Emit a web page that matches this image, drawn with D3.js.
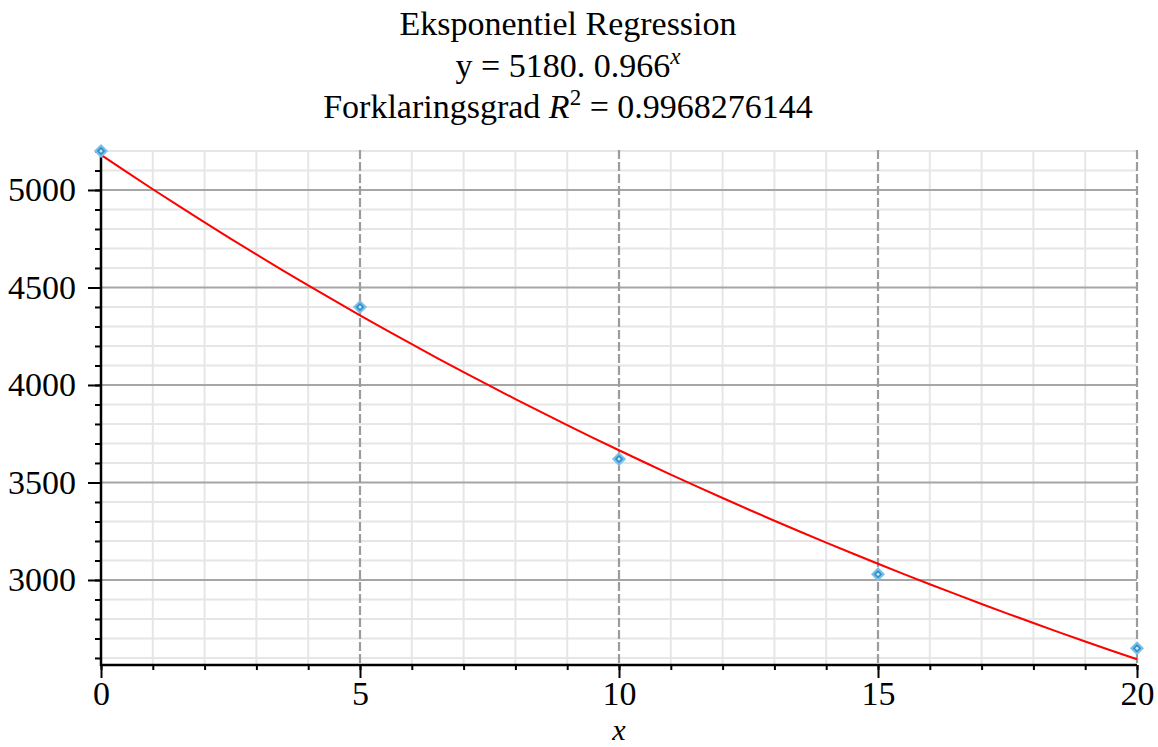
<!DOCTYPE html>
<html>
<head>
<meta charset="utf-8">
<script src="https://cdn.jsdelivr.net/npm/d3@7"></script>
<style>
  body { margin: 0; background: #fff; }
  svg { display: block; font-family: "Liberation Serif", "Times New Roman", serif; }
</style>
</head>
<body>
<div id="wrapper"></div>
<script>
// data
const xValues = [0, 5, 10, 15, 20]
const yValues = [5200, 4400, 3620, 3030, 2650]
// fitted model shown in the title: y = a * b^x
const fitA = 5180
const fitB = 0.966
const fitX = d3.range(0, 20.01, 0.5)
const xMajorTicks = [0, 5, 10, 15, 20]
const yMajorTicks = [3000, 3500, 4000, 4500, 5000]
const titleLines = ["Eksponentiel Regression", "y = 5180. 0.966", "Forklaringsgrad "]

function drawChart() {
    const dimensions = {
        width: 1158,
        height: 747,
        margin: { top: 150, right: 21, bottom: 82, left: 101 },
    }
    dimensions.boundedWidth = dimensions.width - dimensions.margin.left - dimensions.margin.right
    dimensions.boundedHeight = dimensions.height - dimensions.margin.top - dimensions.margin.bottom

    const svg = d3.select("#wrapper").append("svg")
        .attr("width", dimensions.width)
        .attr("height", dimensions.height)

    const bounds = svg.append("g")
        .attr("transform", `translate(${dimensions.margin.left},${dimensions.margin.top})`)

    const xScale = d3.scaleLinear()
        .domain([0, 20])
        .range([0, dimensions.boundedWidth])

    const yScale = d3.scaleLinear()
        .domain([2564, 5205])
        .range([dimensions.boundedHeight, 0])

    const xMinor = d3.range(0, 21, 1)
    const yMinor = d3.range(2600, 5201, 100)

    // minor grid
    bounds.append("g").selectAll("line")
        .data(yMinor.filter(d => d % 500 !== 0))
        .join("line")
        .attr("x1", 0).attr("x2", dimensions.boundedWidth)
        .attr("y1", d => yScale(d)).attr("y2", d => yScale(d))
        .attr("stroke", "#e6e6e6").attr("stroke-width", 2)

    bounds.append("g").selectAll("line")
        .data(xMinor.filter(d => d % 5 !== 0))
        .join("line")
        .attr("x1", d => xScale(d)).attr("x2", d => xScale(d))
        .attr("y1", 0).attr("y2", dimensions.boundedHeight)
        .attr("stroke", "#e6e6e6").attr("stroke-width", 2)

    // major grid
    bounds.append("g").selectAll("line")
        .data(yMajorTicks)
        .join("line")
        .attr("x1", 0).attr("x2", dimensions.boundedWidth)
        .attr("y1", d => yScale(d)).attr("y2", d => yScale(d))
        .attr("stroke", "#a6a6a6").attr("stroke-width", 2)

    bounds.append("g").selectAll("line")
        .data(xMajorTicks.filter(d => d > 0))
        .join("line")
        .attr("x1", d => xScale(d)).attr("x2", d => xScale(d))
        .attr("y1", 0).attr("y2", dimensions.boundedHeight)
        .attr("stroke", "#9c9c9c").attr("stroke-width", 2.2)
        .attr("stroke-dasharray", "9,3")

    // fitted curve
    const lineGenerator = d3.line()
        .x(d => xScale(d))
        .y(d => yScale(fitA * Math.pow(fitB, d)))

    bounds.append("path")
        .attr("d", lineGenerator(fitX))
        .attr("fill", "none")
        .attr("stroke", "#ff0000")
        .attr("stroke-width", 2)

    // axes
    const yAxisMinor = d3.axisLeft(yScale).tickValues(yMinor).tickSize(6).tickFormat("")
    const yAxisMajor = d3.axisLeft(yScale).tickValues(yMajorTicks).tickSize(13).tickPadding(12).tickFormat(d3.format("d"))
    const xAxisMinor = d3.axisBottom(xScale).tickValues(xMinor).tickSize(5).tickFormat("")
    const xAxisMajor = d3.axisBottom(xScale).tickValues(xMajorTicks).tickSize(13).tickFormat(d3.format("d"))

    const styleAxis = g => {
        g.select(".domain").remove()
        g.selectAll("line").attr("stroke", "#000").attr("stroke-width", 2)
        g.selectAll("text").attr("fill", "#000").style("font-size", "34px")
            .style("font-family", "'Liberation Serif', serif")
    }

    bounds.append("g").call(yAxisMinor).call(styleAxis)
    bounds.append("g").call(yAxisMajor).call(styleAxis)
    bounds.append("g").attr("transform", `translate(0,${dimensions.boundedHeight})`).call(xAxisMinor).call(styleAxis)
    const xAxis = bounds.append("g").attr("transform", `translate(0,${dimensions.boundedHeight})`).call(xAxisMajor).call(styleAxis)
    xAxis.selectAll("text").attr("y", 40).attr("dy", 0)

    bounds.append("line")
        .attr("x1", 0).attr("x2", 0)
        .attr("y1", 0).attr("y2", dimensions.boundedHeight + 1)
        .attr("stroke", "#000").attr("stroke-width", 2.5)
    bounds.append("line")
        .attr("x1", -1).attr("x2", dimensions.boundedWidth)
        .attr("y1", dimensions.boundedHeight).attr("y2", dimensions.boundedHeight)
        .attr("stroke", "#000").attr("stroke-width", 2.5)

    // data points
    const points = bounds.append("g").selectAll("g")
        .data(xValues.map((x, i) => ({ x, y: yValues[i] })))
        .join("g")
        .attr("transform", d => `translate(${xScale(d.x)},${yScale(d.y)})`)
    points.append("path")
        .attr("d", d3.symbol(d3.symbolSquare, 64))
        .attr("transform", "rotate(45)")
        .attr("fill", "#2f8fcc")
        .attr("stroke", "#7cc0e8")
        .attr("stroke-width", 2)
    points.append("circle")
        .attr("r", 1.5)
        .attr("fill", "#cfe8f6")

    // x label
    svg.append("text")
        .attr("x", dimensions.margin.left + xScale(10))
        .attr("y", 740)
        .attr("text-anchor", "middle")
        .style("font-size", "30px")
        .style("font-style", "italic")
        .text("x")

    // title
    const title = svg.append("g").style("font-size", "34px").attr("text-anchor", "middle")
    title.append("text").attr("x", 568).attr("y", 35).text(titleLines[0])
    const t2 = title.append("text").attr("x", 568).attr("y", 77)
    t2.append("tspan").text(titleLines[1])
    t2.append("tspan").attr("font-style", "italic").attr("font-size", "23px").attr("dy", -13).text("x")
    const t3 = title.append("text").attr("x", 568).attr("y", 118)
    t3.append("tspan").text(titleLines[2])
    t3.append("tspan").attr("font-style", "italic").text("R")
    t3.append("tspan").attr("font-size", "23px").attr("dy", -13).text("2")
    t3.append("tspan").attr("dy", 13).text(" = 0.9968276144")
}

drawChart()
</script>
</body>
</html>
